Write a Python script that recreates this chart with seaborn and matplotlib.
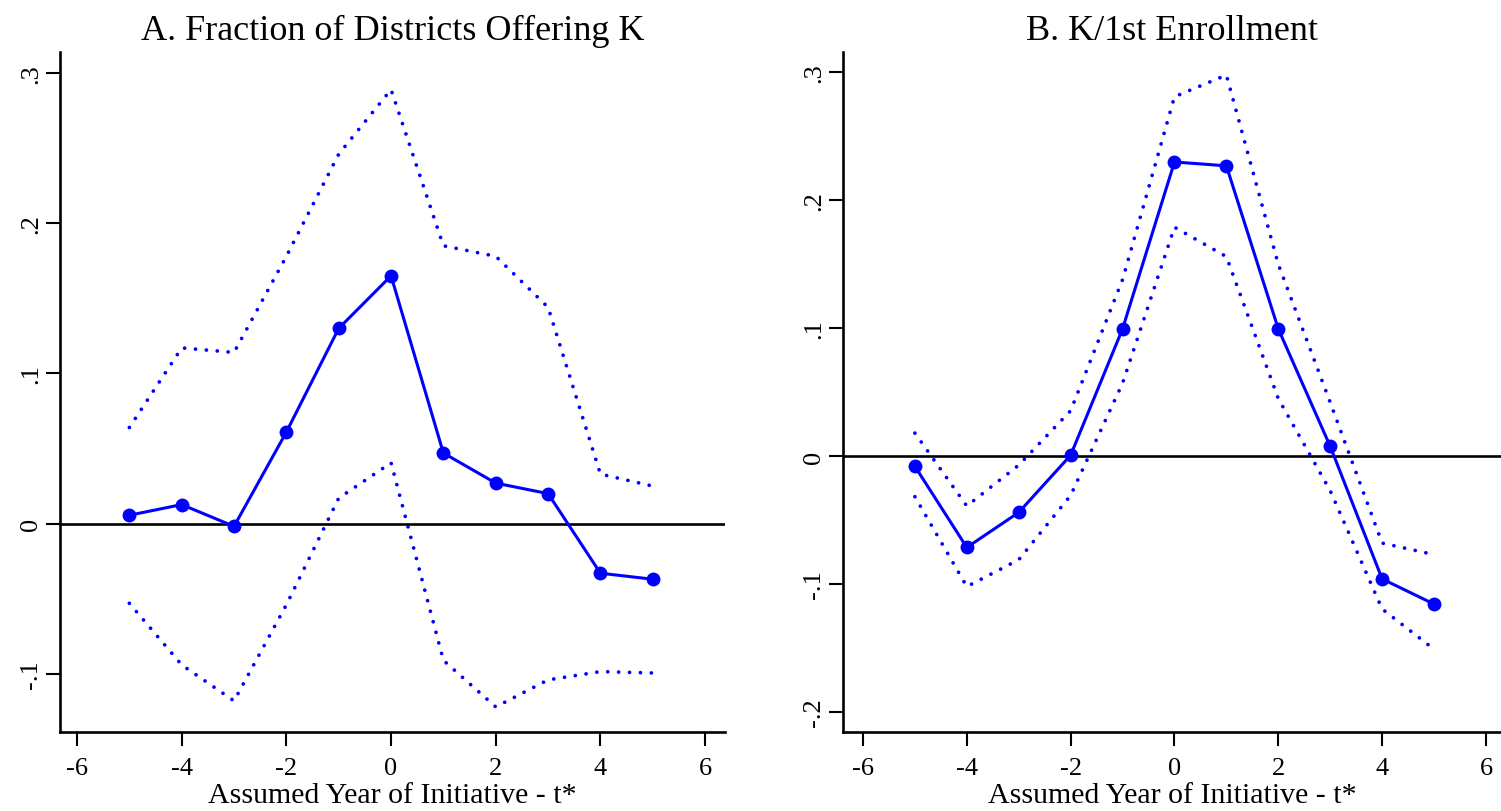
import numpy as np
import pandas as pd
import matplotlib
matplotlib.use("Agg")
import matplotlib.pyplot as plt
import seaborn as sns

# Event-time (assumed year of initiative - t*)
years = [-5, -4, -3, -2, -1, 0, 1, 2, 3, 4, 5]

# Panel A: fraction of districts offering K
a_coef = [0.0056, 0.0127, -0.0018, 0.061, 0.130, 0.165, 0.047, 0.027, 0.020, -0.033, -0.037]
a_upper = [0.064, 0.117, 0.114, 0.178, 0.246, 0.289, 0.185, 0.178, 0.144, 0.033, 0.025]
a_lower = [-0.053, -0.094, -0.118, -0.054, 0.017, 0.0405, -0.091, -0.122, -0.104, -0.0985, -0.0994]

# Panel B: K/1st enrollment
b_coef = [-0.008, -0.0714, -0.044, 0.0007, 0.0995, 0.230, 0.227, 0.0995, 0.0077, -0.096, -0.1157]
b_upper = [0.018, -0.039, -0.007, 0.0355, 0.138, 0.281, 0.298, 0.150, 0.042, -0.068, -0.077]
b_lower = [-0.0317, -0.102, -0.081, -0.0307, 0.057, 0.179, 0.156, 0.045, -0.027, -0.1195, -0.151]

titles = ["A. Fraction of Districts Offering K", "B. K/1st Enrollment"]
xlabel = "Assumed Year of Initiative - t*"
xticks = [-6, -4, -2, 0, 2, 4, 6]
a_yticks = [-0.1, 0, 0.1, 0.2, 0.3]
b_yticks = [-0.2, -0.1, 0, 0.1, 0.2, 0.3]


def stata_label(v):
    # Stata drops the leading zero: .1, -.1
    if abs(v) < 1e-9:
        return "0"
    return f"{v:.1f}".replace("0.", ".")


sns.set_style("ticks")
plt.rcParams["font.family"] = ["Liberation Serif", "DejaVu Serif"]
plt.rcParams.update({"text.color": "black", "axes.labelcolor": "black",
                     "xtick.color": "black", "ytick.color": "black",
                     "axes.edgecolor": "black"})

fig = plt.figure(figsize=(15.01, 8.12), dpi=100)
ax_a = fig.add_axes([60 / 1501, 79 / 812, 665 / 1501, 680 / 812])
ax_b = fig.add_axes([843 / 1501, 79 / 812, 658 / 1501, 680 / 812])

panels = [
    (ax_a, a_coef, a_upper, a_lower, a_yticks, (-0.1387, 0.314), (-6.325, 6.38)),
    (ax_b, b_coef, b_upper, b_lower, b_yticks, (-0.2157, 0.316), (-6.385, 6.29)),
]

dots = (0, (0.01, 2.9))

for i, (ax, coef, up, lo, yt, ylim, xlim) in enumerate(panels):
    df = pd.DataFrame({"year": years, "coef": coef, "upper": up, "lower": lo})
    ax.axhline(0, color="black", lw=1.9, zorder=1)
    for col in ["upper", "lower"]:
        sns.lineplot(data=df, x="year", y=col, ax=ax, color="#0000ff", lw=2.7,
                     linestyle=dots, dash_capstyle="round")
    sns.lineplot(data=df, x="year", y="coef", ax=ax, color="#0000ff", lw=2.2,
                 marker="o", markersize=10, markeredgewidth=0)
    ax.set_xlim(*xlim)
    ax.set_ylim(*ylim)
    ax.set_xticks(xticks)
    ax.set_xticklabels([str(t) for t in xticks], fontsize=19)
    ax.set_yticks(yt)
    ax.set_yticklabels([stata_label(t) for t in yt], fontsize=19, rotation=90, va="center")
    ax.tick_params(axis="x", length=10, width=1.5, color="black", labelcolor="black", pad=8)
    ax.tick_params(axis="y", length=10, width=1.5, color="black", labelcolor="black", pad=3)
    ax.set_xlabel(xlabel, fontsize=21.5, labelpad=2, color="black")
    ax.set_ylabel("")
    ax.set_title(titles[i], fontsize=26, pad=9, color="black")
    sns.despine(ax=ax)
    for side in ["left", "bottom"]:
        ax.spines[side].set_linewidth(1.9)
        ax.spines[side].set_color("black")

fig.savefig("out.png", dpi=100)
